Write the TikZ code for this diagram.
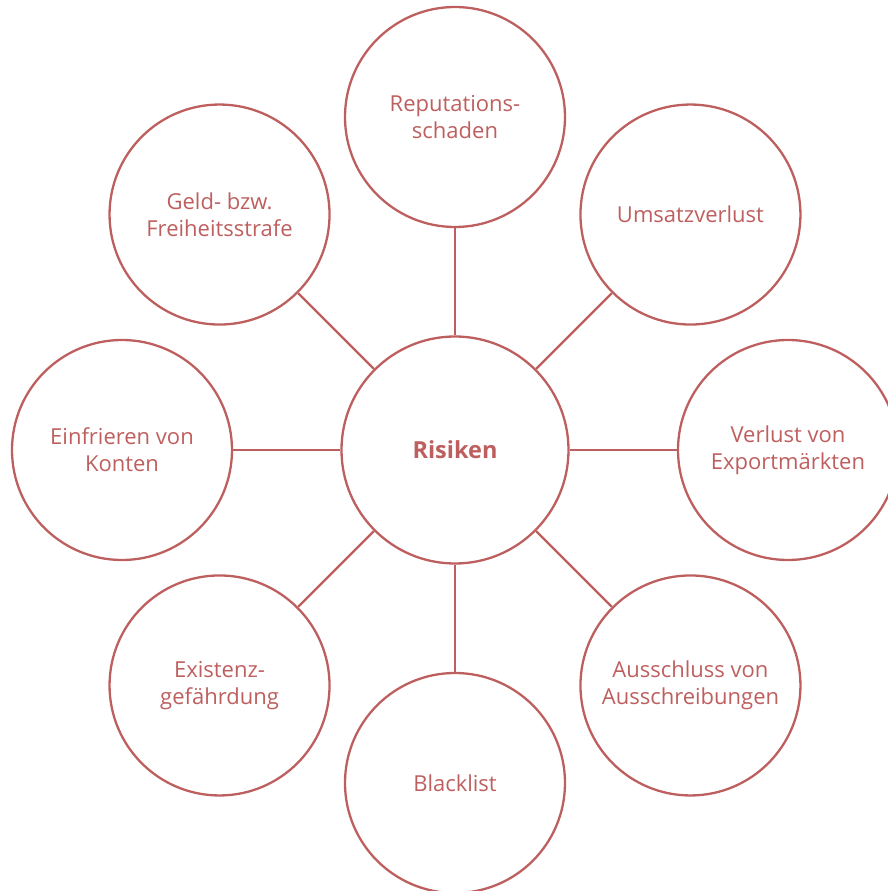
\documentclass[tikz,border=0pt]{standalone}
\usepackage{fontspec}
\setmainfont{Open Sans}
\definecolor{riskred}{RGB}{190,95,95}
\tikzset{
  bubble/.style={circle,draw=riskred,line width=2.3pt,minimum size=220pt,inner sep=0pt,
    align=center,text=riskred,font=\fontsize{22}{27}\selectfont},
  hub/.style={bubble,minimum size=227pt,font=\fontsize{23.5}{27}\selectfont\bfseries},
  spoke/.style={draw=riskred,line width=2.3pt}
}
\begin{document}
\begin{tikzpicture}
    \useasboundingbox (-455pt,450pt) rectangle (433pt,-441pt);
    \node[hub] (risiken) at (0,0) {Risiken};
    \node[bubble] (reputation) at (90:333pt) {Reputations-\\schaden};
    \node[bubble] (umsatz) at (45:333pt) {Umsatzverlust};
    \node[bubble] (export) at (0:333pt) {Verlust von\\Exportmärkten};
    \node[bubble] (ausschluss) at (-45:333pt) {Ausschluss von\\Ausschreibungen};
    \node[bubble] (blacklist) at (-90:333pt) {Blacklist};
    \node[bubble] (existenz) at (-135:333pt) {Existenz-\\gefährdung};
    \node[bubble] (konten) at (180:333pt) {Einfrieren von\\Konten};
    \node[bubble] (strafe) at (135:333pt) {Geld- bzw.\\Freiheitsstrafe};
    \draw[spoke] (risiken) -- (reputation);
    \draw[spoke] (risiken) -- (umsatz);
    \draw[spoke] (risiken) -- (export);
    \draw[spoke] (risiken) -- (ausschluss);
    \draw[spoke] (risiken) -- (blacklist);
    \draw[spoke] (risiken) -- (existenz);
    \draw[spoke] (risiken) -- (konten);
    \draw[spoke] (risiken) -- (strafe);
\end{tikzpicture}
\end{document}
